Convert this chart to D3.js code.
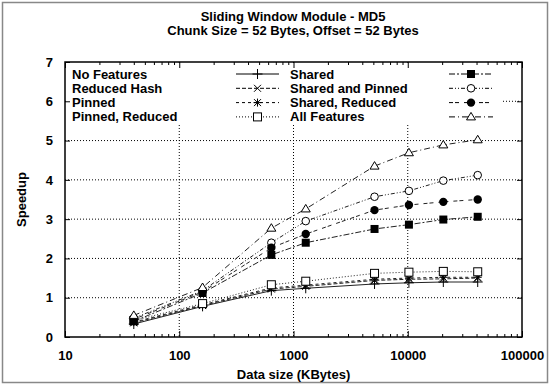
<!DOCTYPE html>
<html>
<head>
<meta charset="utf-8">
<script src="https://cdn.jsdelivr.net/npm/d3@7/dist/d3.min.js"></script>
<style>
  body { margin: 0; background: #fff; }
  text { font-family: "Liberation Sans", Arial, sans-serif; font-weight: bold; fill: #000; }
</style>
</head>
<body>
<div id="chart"></div>
<script>
// data
var dataSizes = [40, 160, 640, 1280, 5120, 10240, 20480, 40960];

var noFeatures     = [0.33, 0.78, 1.18, 1.24, 1.35, 1.38, 1.40, 1.40];
var reducedHash    = [0.36, 0.80, 1.22, 1.29, 1.44, 1.47, 1.48, 1.50];
var pinned         = [0.38, 0.82, 1.25, 1.32, 1.47, 1.50, 1.52, 1.52];
var pinnedReduced  = [0.42, 0.85, 1.33, 1.42, 1.62, 1.65, 1.67, 1.66];
var shared         = [0.40, 1.12, 2.09, 2.40, 2.75, 2.86, 2.99, 3.06];
var sharedPinned   = [0.48, 1.18, 2.40, 2.95, 3.57, 3.72, 3.98, 4.12];
var sharedReduced  = [0.45, 1.15, 2.27, 2.62, 3.23, 3.36, 3.44, 3.50];
var allFeatures    = [0.55, 1.26, 2.77, 3.26, 4.35, 4.69, 4.89, 5.02];

var xTicks = [10, 100, 1000, 10000, 100000];
var yTicks = [0, 1, 2, 3, 4, 5, 6, 7];

var series = [
  { name: "No Features",       values: noFeatures,    dash: null,          marker: "plus" },
  { name: "Reduced Hash",      values: reducedHash,   dash: "4,2",         marker: "cross" },
  { name: "Pinned",            values: pinned,        dash: "3,3",         marker: "star" },
  { name: "Pinned, Reduced",   values: pinnedReduced, dash: "1,2",         marker: "box" },
  { name: "Shared",            values: shared,        dash: "6,2,2,2",     marker: "fbox" },
  { name: "Shared and Pinned", values: sharedPinned,  dash: "4,2,1,2,1,2", marker: "circle" },
  { name: "Shared, Reduced",   values: sharedReduced, dash: "4,2,4,5",     marker: "fcircle" },
  { name: "All Features",      values: allFeatures,   dash: "6,3,1,3",     marker: "tri" }
];

var svgWidth = 550, svgHeight = 385;
var margin = { top: 62, right: 28, bottom: 48, left: 65 };
var width = svgWidth - margin.left - margin.right;
var height = svgHeight - margin.top - margin.bottom;

var svg = d3.select("#chart").append("svg")
  .attr("width", svgWidth)
  .attr("height", svgHeight);

// outer frame
svg.append("rect")
  .attr("x", 2.5).attr("y", 2.5)
  .attr("width", svgWidth - 5).attr("height", svgHeight - 5)
  .attr("fill", "none").attr("stroke", "#888").attr("stroke-width", 1.5);

var chart = svg.append("g")
  .attr("transform", `translate(${margin.left}, ${margin.top})`);

var xScale = d3.scaleLog().domain([10, 100000]).range([0, width]);
var yScale = d3.scaleLinear().domain([0, 7]).range([height, 0]);

// minor ticks on the log axis
var minorTicks = [];
for (var d = 10; d < 100000; d *= 10) {
  for (var k = 2; k <= 9; k++) minorTicks.push(d * k);
}

// grid
chart.append("g").selectAll("line.gx")
  .data([100, 1000, 10000]).enter().append("line")
  .attr("x1", d => xScale(d)).attr("x2", d => xScale(d))
  .attr("y1", 0).attr("y2", height)
  .attr("stroke", "#000").attr("stroke-width", 1).attr("stroke-dasharray", "1,2");
chart.append("g").selectAll("line.gy")
  .data([1, 2, 3, 4, 5, 6]).enter().append("line")
  .attr("x1", 0).attr("x2", width)
  .attr("y1", d => yScale(d)).attr("y2", d => yScale(d))
  .attr("stroke", "#000").attr("stroke-width", 1).attr("stroke-dasharray", "1,2");

// key area is blanked
chart.append("rect")
  .attr("x", 1).attr("y", 1).attr("width", 437).attr("height", 60)
  .attr("fill", "#fff");

// axes (ticks point inwards)
function styleAxis(g) {
  g.select(".domain").remove();
  g.selectAll("line").attr("stroke", "#000");
  g.selectAll("text").style("font-size", "13px").style("font-family", "Liberation Sans, Arial, sans-serif").style("font-weight", "bold");
}

chart.append("g")
  .attr("transform", `translate(0, ${height})`)
  .call(d3.axisBottom(xScale).tickValues(xTicks).tickSize(-6).tickPadding(14).tickFormat(d3.format("d")))
  .call(styleAxis);
chart.append("g")
  .attr("transform", `translate(0, ${height})`)
  .call(d3.axisBottom(xScale).tickValues(minorTicks).tickSize(-3).tickFormat(""))
  .call(styleAxis);
chart.append("g")
  .call(d3.axisTop(xScale).tickValues(xTicks).tickSize(-6).tickFormat(""))
  .call(styleAxis);
chart.append("g")
  .call(d3.axisTop(xScale).tickValues(minorTicks).tickSize(-3).tickFormat(""))
  .call(styleAxis);
chart.append("g")
  .call(d3.axisLeft(yScale).tickValues(yTicks).tickSize(-5).tickPadding(12).tickFormat(d3.format("d")))
  .call(styleAxis);
chart.append("g")
  .attr("transform", `translate(${width}, 0)`)
  .call(d3.axisRight(yScale).tickValues(yTicks).tickSize(-5).tickFormat(""))
  .call(styleAxis);

// border
chart.append("rect")
  .attr("width", width).attr("height", height)
  .attr("fill", "none").attr("stroke", "#000").attr("stroke-width", 1.5);

// markers
function drawMarker(g, type, cx, cy) {
  var s = 4;
  if (type == "plus") {
    g.append("path").attr("d", `M${cx - 5},${cy}H${cx + 5}M${cx},${cy - 5}V${cy + 5}`)
      .attr("stroke", "#000").attr("fill", "none");
  } else if (type == "cross") {
    g.append("path").attr("d", `M${cx - 3.5},${cy - 3.5}L${cx + 3.5},${cy + 3.5}M${cx - 3.5},${cy + 3.5}L${cx + 3.5},${cy - 3.5}`)
      .attr("stroke", "#000").attr("fill", "none");
  } else if (type == "star") {
    g.append("path").attr("d", `M${cx - 4},${cy}H${cx + 4}M${cx},${cy - 4}V${cy + 4}M${cx - 3.5},${cy - 3.5}L${cx + 3.5},${cy + 3.5}M${cx - 3.5},${cy + 3.5}L${cx + 3.5},${cy - 3.5}`)
      .attr("stroke", "#000").attr("fill", "none");
  } else if (type == "box") {
    g.append("rect").attr("x", cx - s).attr("y", cy - s).attr("width", 2 * s).attr("height", 2 * s)
      .attr("fill", "#fff").attr("stroke", "#000");
  } else if (type == "fbox") {
    g.append("rect").attr("x", cx - s).attr("y", cy - s).attr("width", 2 * s).attr("height", 2 * s)
      .attr("fill", "#000");
  } else if (type == "circle") {
    g.append("circle").attr("cx", cx).attr("cy", cy).attr("r", 3.8)
      .attr("fill", "#fff").attr("stroke", "#000");
  } else if (type == "fcircle") {
    g.append("circle").attr("cx", cx).attr("cy", cy).attr("r", 4.2).attr("fill", "#000");
  } else if (type == "tri") {
    g.append("path").attr("d", `M${cx},${cy - 4.5}L${cx + 4.5},${cy + 3}L${cx - 4.5},${cy + 3}Z`)
      .attr("fill", "#fff").attr("stroke", "#000");
  }
}

var line = d3.line()
  .x((d, i) => xScale(dataSizes[i]))
  .y(d => yScale(d));

series.forEach(function(s) {
  chart.append("path")
    .datum(s.values)
    .attr("d", line)
    .attr("fill", "none")
    .attr("stroke", "#222")
    .attr("stroke-width", 1)
    .attr("stroke-dasharray", s.dash);
});
series.forEach(function(s) {
  var g = chart.append("g");
  s.values.forEach(function(v, i) {
    drawMarker(g, s.marker, xScale(dataSizes[i]), yScale(v));
  });
});

// legend
series.forEach(function(s, i) {
  var col = i < 4 ? 0 : 1;
  var row = i % 4;
  var ty = 12 + row * 14.3;
  var tx = col == 0 ? 7 : 225;
  var lx1 = col == 0 ? 171 : 384;
  var lx2 = col == 0 ? 214 : 428;
  chart.append("text")
    .attr("x", tx).attr("y", ty).attr("dy", "0.35em")
    .style("font-size", "13px")
    .text(s.name);
  chart.append("line")
    .attr("x1", lx1).attr("x2", lx2).attr("y1", ty).attr("y2", ty)
    .attr("stroke", "#000").attr("stroke-dasharray", s.dash);
  drawMarker(chart, s.marker, (lx1 + lx2) / 2, ty);
});

// titles
svg.append("text")
  .attr("x", 293).attr("y", 21)
  .attr("text-anchor", "middle").style("font-size", "13px")
  .text("Sliding Window Module - MD5");
svg.append("text")
  .attr("x", 293).attr("y", 35)
  .attr("text-anchor", "middle").style("font-size", "13px")
  .text("Chunk Size = 52 Bytes, Offset = 52 Bytes");

svg.append("text")
  .attr("transform", "rotate(-90)")
  .attr("x", -(margin.top + height / 2)).attr("y", 26)
  .attr("text-anchor", "middle").style("font-size", "13px")
  .text("Speedup");

svg.append("text")
  .attr("x", margin.left + width / 2).attr("y", 379)
  .attr("text-anchor", "middle").style("font-size", "13px")
  .text("Data size (KBytes)");
</script>
</body>
</html>
